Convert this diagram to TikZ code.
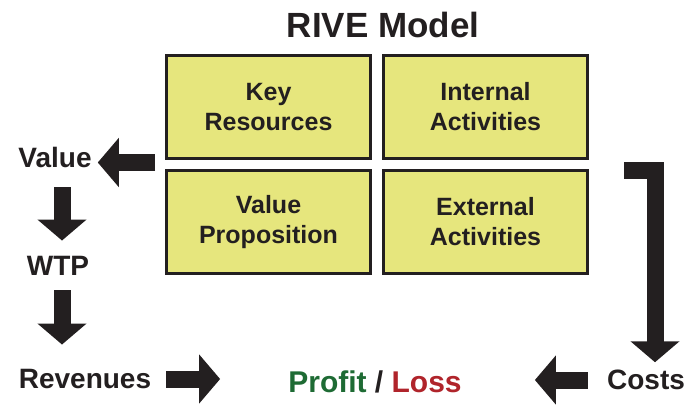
\documentclass[tikz,border=0pt]{standalone}
\usepackage{fontspec}
\setmainfont{Liberation Sans}
\usetikzlibrary{positioning, calc, arrows.meta}

\definecolor{boxYellow}{HTML}{E6E67D}
\definecolor{ink}{HTML}{231F20}
\definecolor{profitGreen}{HTML}{1E6B34}
\definecolor{lossRed}{HTML}{B0242B}

\begin{document}
\begin{tikzpicture}[x=1pt, y=-1pt,
	block/.style={draw=ink, line width=3pt, fill=boxYellow, minimum width=204pt, minimum height=103pt, align=center, text=ink, font=\fontsize{25}{30}\selectfont\bfseries},
	sideText/.style={inner sep=0pt, text=ink, anchor=base, font=\fontsize{28}{34}\selectfont\bfseries},
	fatArrow/.style={ink, line width=17pt, line join=miter, -{Triangle[length=21pt, width=48pt]}}
	]
	
	\useasboundingbox (0,0) rectangle (691,405);
	
	\node[sideText, font=\fontsize{35}{40}\selectfont\bfseries] (title) at (383,37) {RIVE Model};
	
	% Model boxes
	\node[block] (kr) at (268.5,107) {Key\\Resources};
	\node[block, right=10pt of kr] (ia) {Internal\\Activities};
	\node[block, below=9pt of kr] (vp) {Value\\Proposition};
	\node[block, below=9pt of ia] (ea) {External\\Activities};
	
	% Side labels
	\node[sideText] (value) at (55,167) {Value};
	\node[sideText] (wtp) at (58,275) {WTP};
	\node[sideText] (rev) at (85,388) {Revenues};
	\node[sideText] (costs) at (646,389) {Costs};
	\node[sideText, font=\fontsize{30}{36}\selectfont\bfseries] (pl) at (375,392) {\textcolor{profitGreen}{Profit} / \textcolor{lossRed}{Loss}};
	
	% Value side
	\coordinate (gapL) at ($(kr.south west)!.5!(vp.north west)$);
	\draw[fatArrow] ($(gapL)+(-10,-2)$) -- ($(value.base east |- gapL)+(6,-2)$);
	\draw[fatArrow] ($(wtp |- value.south)+(4,20)$) -- ($(wtp.north)+(4,-15)$);
	\draw[fatArrow] ($(wtp.south)+(4,15)$) -- ($(wtp.south |- rev.north)+(4,-24)$);
	\draw[fatArrow] ($(rev.base east)+(15,-9)$) -- ($(pl.base west |- rev.base)+(-68,-9)$);
	
	% Cost side
	\draw[fatArrow] ($(ea.north east)+(35,1)$) -| ($(costs.north)+(9,-7)$);
	\draw[fatArrow] ($(costs.base west)+(-19,-9)$) -- ($(pl.base east |- costs.base)+(73,-9)$);
\end{tikzpicture}
\end{document}
